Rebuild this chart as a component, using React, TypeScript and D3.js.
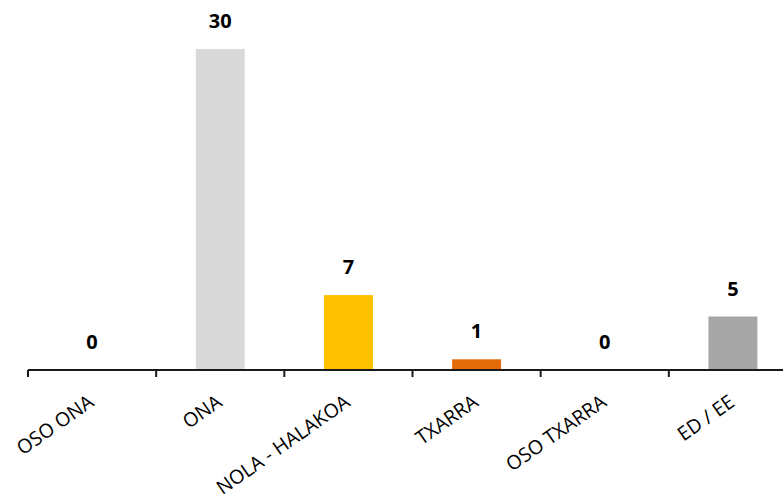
import React from "react";
import * as d3 from "d3";

const categories: string[] = ["OSO ONA", "ONA", "NOLA - HALAKOA", "TXARRA", "OSO TXARRA", "ED / EE"];
const values: number[] = [0, 30, 7, 1, 0, 5];
const colors: string[] = ["#d9d9d9", "#d9d9d9", "#ffc000", "#e36c09", "#d9d9d9", "#a6a6a6"];

const W = 783;
const H = 500;

export default function App() {
  const axisY = 370;
  const x = d3
    .scaleBand<string>()
    .domain(categories)
    .range([28, 797])
    .paddingInner(0.618)
    .paddingOuter(0.309);
  const y = d3.scaleLinear().domain([0, 30]).range([axisY, 49]);
  const step = x.step();
  const left = x.range()[0];
  const tickXs = d3.range(categories.length + 1).map((i) => left + i * step);
  const font = "'Open Sans', 'Liberation Sans', sans-serif";

  return (
    <svg
      width={W}
      height={H}
      style={{ position: "absolute", left: 0, top: 0, background: "#fff" }}
    >
      {categories.map((c, i) => {
        const v = values[i];
        const bx = x(c)!;
        const top = y(v);
        return (
          <g key={c}>
            {v > 0 && (
              <rect x={bx} y={top} width={x.bandwidth()} height={axisY - top} fill={colors[i]} />
            )}
            <text
              x={bx + x.bandwidth() / 2}
              y={top - 21}
              textAnchor="middle"
              fontFamily={font}
              fontWeight="bold"
              fontSize={20}
              fill="#000"
            >
              {v}
            </text>
          </g>
        );
      })}
      <line x1={28} x2={W} y1={axisY} y2={axisY} stroke="#1a1a1a" strokeWidth={2} />
      {tickXs.map((tx, i) => (
        <line key={i} x1={tx} x2={tx} y1={axisY} y2={axisY + 7} stroke="#1a1a1a" strokeWidth={2} />
      ))}
      {categories.map((c) => {
        const cx = x(c)! + x.bandwidth() / 2;
        return (
          <text
            key={"l" + c}
            transform={`translate(${cx + 3},${405}) rotate(-35)`}
            textAnchor="end"
            fontFamily={font}
            fontSize={19.5}
            fill="#000"
          >
            {c}
          </text>
        );
      })}
    </svg>
  );
}
